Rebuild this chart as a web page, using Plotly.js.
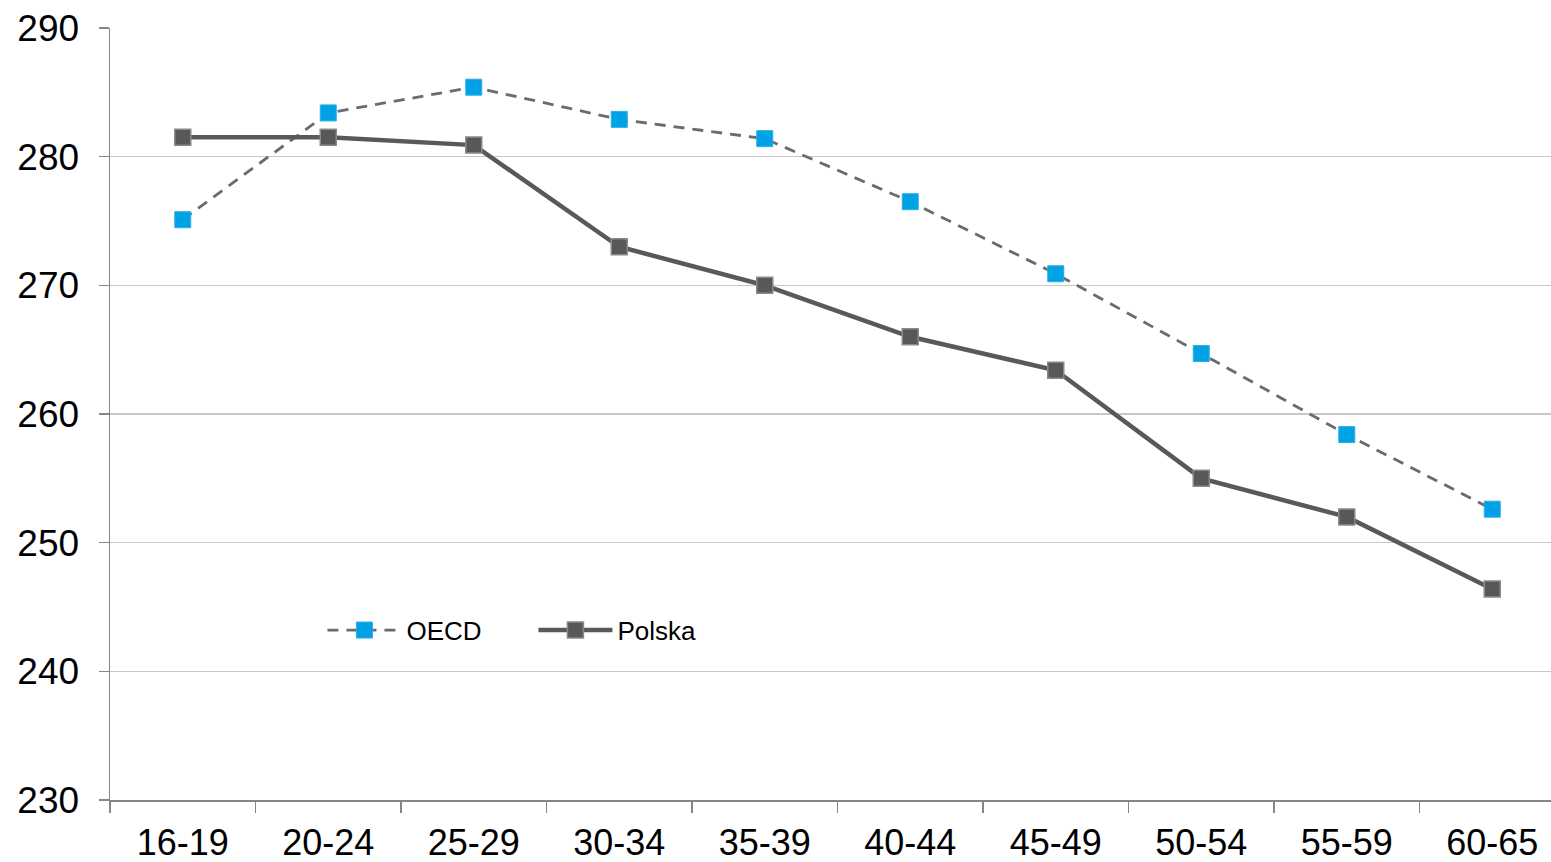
<!DOCTYPE html>
<html>
<head>
<meta charset="utf-8">
<script src="https://cdn.plot.ly/plotly-3.0.1.min.js"></script>
<style>html,body{margin:0;padding:0;overflow:hidden;background:#fff;}</style>
</head>
<body>
<div id="chart"></div>
<script>
const categories = ["16-19","20-24","25-29","30-34","35-39","40-44","45-49","50-54","55-59","60-65"];
const oecd = [275.1, 283.4, 285.4, 282.9, 281.4, 276.5, 270.9, 264.7, 258.4, 252.6];
const polska = [281.5, 281.5, 280.9, 273.0, 270.0, 266.0, 263.4, 255.0, 252.0, 246.4];
const yTicks = [230, 240, 250, 260, 270, 280, 290];

const traces = [
  {
    x: categories, y: oecd, name: "OECD", type: "scatter", mode: "lines+markers",
    line: {color: "#6b6b6b", width: 2.8, dash: "11px,8px"},
    marker: {symbol: "square", size: 16, color: "#00a2e6", line: {color: "#2aaee6", width: 1}}
  },
  {
    x: categories, y: polska, name: "Polska", type: "scatter", mode: "lines+markers",
    line: {color: "#595959", width: 4.5},
    marker: {symbol: "square", size: 16, color: "#585858", line: {color: "#8a8a8a", width: 1.5}}
  }
];

const layout = {
  width: 1600, height: 862,
  margin: {l: 110, r: 35, t: 28, b: 62},
  paper_bgcolor: "#fff", plot_bgcolor: "#fff",
  font: {family: "Liberation Sans, Arial, sans-serif", color: "#000"},
  showlegend: true,
  legend: {
    orientation: "h", x: 0.146, y: 0.22, xanchor: "left", yanchor: "middle",
    font: {size: 26, color: "#000"}, itemwidth: 74, bgcolor: "rgba(0,0,0,0)",
    entrywidth: 122, entrywidthmode: "pixels",
    traceorder: "normal"
  },
  xaxis: {
    type: "category", tickson: "boundaries", ticks: "outside", ticklen: 11, tickwidth: 1.5,
    tickcolor: "#868686", showline: true, linecolor: "#868686", linewidth: 1.5,
    showgrid: false, tickfont: {size: 36, color: "#000"}, range: [-0.5, 9.5], fixedrange: true,
    ticklabelstandoff: 10
  },
  yaxis: {
    range: [230, 290], tickvals: yTicks, ticktext: yTicks.map(String),
    ticks: "outside", ticklen: 10, tickwidth: 1.5, tickcolor: "#868686",
    showline: true, linecolor: "#868686", linewidth: 1.5,
    showgrid: true, gridcolor: "#c8c8c8", gridwidth: 1.5, zeroline: false,
    tickfont: {size: 37, color: "#000"}, fixedrange: true,
    ticklabelstandoff: 12
  }
};

Plotly.newPlot("chart", traces, layout, {displayModeBar: false, staticPlot: true});
</script>
</body>
</html>
